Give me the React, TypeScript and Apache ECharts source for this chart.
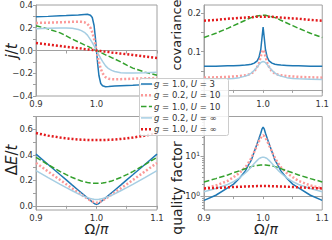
import React, { useEffect, useRef } from 'react';
import * as echarts from 'echarts';

// Ω/π sample points
const omega = [0.9, 0.92, 0.94, 0.95, 0.96, 0.97, 0.975, 0.98, 0.985, 0.99, 0.993, 0.996, 0.998, 1.0, 1.002, 1.004, 1.007, 1.01, 1.015, 1.02, 1.025, 1.03, 1.04, 1.05, 1.06, 1.08, 1.1];

const seriesNames = ['g = 1.0, U = 3', 'g = 0.2, U = 10', 'g = 1.0, U = 10', 'g = 0.2, U = ∞', 'g = 1.0, U = ∞'];

// j/t
const current_g1_U3 = [0.296, 0.3, 0.305, 0.307, 0.31, 0.313, 0.315, 0.317, 0.318, 0.31, 0.29, 0.22, 0.12, 0, -0.12, -0.22, -0.29, -0.31, -0.318, -0.317, -0.315, -0.313, -0.31, -0.307, -0.305, -0.3, -0.296];
const current_g02_U10 = [0.242, 0.245, 0.248, 0.25, 0.252, 0.253, 0.252, 0.248, 0.235, 0.2, 0.16, 0.1, 0.05, 0, -0.05, -0.1, -0.16, -0.2, -0.235, -0.248, -0.252, -0.253, -0.252, -0.25, -0.248, -0.245, -0.242];
const current_g1_U10 = [0.218, 0.19, 0.155, 0.128, 0.1, 0.075, 0.063, 0.05, 0.038, 0.025, 0.018, 0.01, 0.005, 0, -0.005, -0.01, -0.018, -0.025, -0.038, -0.05, -0.063, -0.075, -0.1, -0.128, -0.155, -0.19, -0.218];
const current_g02_Uinf = [0.192, 0.195, 0.197, 0.197, 0.195, 0.185, 0.175, 0.16, 0.135, 0.095, 0.07, 0.04, 0.02, 0, -0.02, -0.04, -0.07, -0.095, -0.135, -0.16, -0.175, -0.185, -0.195, -0.197, -0.197, -0.195, -0.192];
const current_g1_Uinf = [0.065, 0.053, 0.04, 0.033, 0.027, 0.02, 0.017, 0.013, 0.01, 0.007, 0.005, 0.003, 0.0015, 0, -0.0015, -0.003, -0.005, -0.007, -0.01, -0.013, -0.017, -0.02, -0.027, -0.033, -0.04, -0.053, -0.065];

// covariance
const cov_g1_U3 = [0.062, 0.062, 0.063, 0.063, 0.064, 0.065, 0.066, 0.067, 0.07, 0.076, 0.085, 0.105, 0.135, 0.164, 0.135, 0.105, 0.085, 0.076, 0.07, 0.067, 0.066, 0.065, 0.064, 0.063, 0.063, 0.062, 0.062];
const cov_g02_U10 = [0.032, 0.033, 0.034, 0.035, 0.036, 0.038, 0.04, 0.043, 0.048, 0.06, 0.07, 0.087, 0.099, 0.105, 0.099, 0.087, 0.07, 0.06, 0.048, 0.043, 0.04, 0.038, 0.036, 0.035, 0.034, 0.033, 0.032];
const cov_g1_U10 = [0.137, 0.148, 0.161, 0.168, 0.175, 0.182, 0.186, 0.189, 0.191, 0.193, 0.194, 0.195, 0.195, 0.195, 0.195, 0.195, 0.194, 0.193, 0.191, 0.189, 0.186, 0.182, 0.175, 0.168, 0.161, 0.148, 0.137];
const cov_g02_Uinf = [0.027, 0.028, 0.029, 0.03, 0.032, 0.036, 0.039, 0.044, 0.051, 0.06, 0.066, 0.071, 0.073, 0.074, 0.073, 0.071, 0.066, 0.06, 0.051, 0.044, 0.039, 0.036, 0.032, 0.03, 0.029, 0.028, 0.027];
const cov_g1_Uinf = [0.181, 0.183, 0.186, 0.187, 0.188, 0.189, 0.19, 0.19, 0.191, 0.191, 0.191, 0.191, 0.191, 0.191, 0.191, 0.191, 0.191, 0.191, 0.191, 0.19, 0.19, 0.189, 0.188, 0.187, 0.186, 0.183, 0.181];

// ΔE/t
const gap_g1_U3 = [0.405, 0.324, 0.243, 0.203, 0.162, 0.122, 0.102, 0.082, 0.062, 0.042, 0.03, 0.019, 0.014, 0.011, 0.014, 0.019, 0.03, 0.042, 0.062, 0.082, 0.102, 0.122, 0.162, 0.203, 0.243, 0.324, 0.405];
const gap_g02_U10 = [0.336, 0.269, 0.202, 0.169, 0.136, 0.104, 0.087, 0.071, 0.056, 0.041, 0.034, 0.027, 0.025, 0.024, 0.025, 0.027, 0.034, 0.041, 0.056, 0.071, 0.087, 0.104, 0.136, 0.169, 0.202, 0.269, 0.336];
const gap_g1_U10 = [0.38, 0.322, 0.268, 0.244, 0.222, 0.203, 0.195, 0.188, 0.183, 0.179, 0.177, 0.176, 0.176, 0.176, 0.176, 0.176, 0.177, 0.179, 0.183, 0.188, 0.195, 0.203, 0.222, 0.244, 0.268, 0.322, 0.38];
const gap_g02_Uinf = [0.275, 0.221, 0.168, 0.142, 0.118, 0.093, 0.082, 0.072, 0.064, 0.057, 0.054, 0.051, 0.05, 0.05, 0.05, 0.051, 0.054, 0.057, 0.064, 0.072, 0.082, 0.093, 0.118, 0.142, 0.168, 0.221, 0.275];
const gap_g1_Uinf = [0.57, 0.55, 0.535, 0.529, 0.524, 0.52, 0.518, 0.517, 0.516, 0.515, 0.515, 0.515, 0.515, 0.515, 0.515, 0.515, 0.515, 0.515, 0.516, 0.517, 0.518, 0.52, 0.524, 0.529, 0.535, 0.55, 0.57];

// quality factor
const q_g1_U3 = [0.78, 1.05, 1.6, 2.0, 2.8, 4.3, 6, 8, 13, 21, 28, 38, 48, 54, 48, 38, 28, 21, 13, 8, 6, 4.3, 2.8, 2.0, 1.6, 1.05, 0.78];
const q_g02_U10 = [1.55, 1.85, 2.4, 3.0, 3.8, 5.3, 6.8, 9, 13, 19, 24, 29, 32, 33.5, 32, 29, 24, 19, 13, 9, 6.8, 5.3, 3.8, 3.0, 2.4, 1.85, 1.55];
const q_g1_U10 = [2.27, 2.75, 3.4, 3.85, 4.3, 4.9, 5.2, 5.5, 5.75, 5.9, 5.95, 6.0, 6.0, 6.0, 6.0, 6.0, 5.95, 5.9, 5.75, 5.5, 5.2, 4.9, 4.3, 3.85, 3.4, 2.75, 2.27];
const q_g02_Uinf = [1.28, 1.55, 1.95, 2.3, 2.85, 3.8, 4.5, 5.4, 6.6, 7.9, 8.7, 9.2, 9.4, 9.5, 9.4, 9.2, 8.7, 7.9, 6.6, 5.4, 4.5, 3.8, 2.85, 2.3, 1.95, 1.55, 1.28];
const q_g1_Uinf = [1.56, 1.6, 1.66, 1.69, 1.72, 1.74, 1.75, 1.76, 1.77, 1.78, 1.78, 1.78, 1.78, 1.78, 1.78, 1.78, 1.78, 1.78, 1.77, 1.76, 1.75, 1.74, 1.72, 1.69, 1.66, 1.6, 1.56];

const xTicks = [0.9, 0.95, 1.0, 1.05, 1.1];
const jTicks = [-0.4, -0.3, -0.2, -0.1, 0, 0.1, 0.2, 0.3, 0.4];
const jLabels = [-0.4, -0.2, 0, 0.2, 0.4];
const covTicks = [0, 0.05, 0.1, 0.15, 0.2];
const covLabels = [0.1, 0.2];
const gapTicks = [0, 0.1, 0.2, 0.3, 0.4, 0.5, 0.6, 0.7];
const gapLabels = [0, 0.2, 0.4, 0.6];
const qMin = 0.447;
const qMax = 100;
const qMajor = [1, 10, 100];
const qMinor = [0.5, 0.6, 0.7, 0.8, 0.9, 2, 3, 4, 5, 6, 7, 8, 9, 20, 30, 40, 50, 60, 70, 80, 90];

const FONT = 'DejaVu Sans';
const AX = '#a0a0a0';
const TXT = '#333';

const styles = [
  { color: '#1f78b4', width: 1.5, dash: null as any },
  { color: '#fb9a99', width: 2.5, dash: [2, 2] },
  { color: '#33a02c', width: 1.5, dash: [5.5, 2.4] },
  { color: '#a6cee3', width: 1.5, dash: null as any },
  { color: '#e31a1c', width: 2.5, dash: [2, 2] },
];

const panels = [
  [current_g1_U3, current_g02_U10, current_g1_U10, current_g02_Uinf, current_g1_Uinf],
  [cov_g1_U3, cov_g02_U10, cov_g1_U10, cov_g02_Uinf, cov_g1_Uinf],
  [gap_g1_U3, gap_g02_U10, gap_g1_U10, gap_g02_Uinf, gap_g1_Uinf],
  [q_g1_U3, q_g02_U10, q_g1_U10, q_g02_Uinf, q_g1_Uinf],
];

const fmtNum = (v: number) => (v < -1e-9 ? '−' : '') + Math.abs(v).toFixed(1);

function xAxis(grid: number, labels: number[]) {
  return {
    type: 'value', gridIndex: grid, min: 0.9, max: 1.1,
    splitLine: { show: false },
    axisLine: { lineStyle: { color: AX, width: 1 } },
    axisTick: { customValues: xTicks, length: 3, lineStyle: { color: AX } },
    axisLabel: { customValues: labels, formatter: fmtNum, fontSize: 8.5, color: TXT, fontFamily: FONT, margin: 3, showMinLabel: true, showMaxLabel: true },
  };
}

function yAxis(grid: number, min: number, max: number, ticks: number[], labels: number[]) {
  return {
    type: 'value', gridIndex: grid, min, max,
    splitLine: { show: false },
    axisLine: { show: true, lineStyle: { color: AX, width: 1 } },
    axisTick: { customValues: ticks, length: 3, lineStyle: { color: AX } },
    axisLabel: { customValues: labels, formatter: fmtNum, fontSize: 8.5, color: TXT, fontFamily: FONT, margin: 3, showMinLabel: true, showMaxLabel: true },
  };
}

export default function App() {
  const ref = useRef<HTMLDivElement>(null);
  useEffect(() => {
    if (!ref.current) return;
    const chart = echarts.init(ref.current, null, { renderer: 'svg' });
    const grids = [
      { left: 36, top: 5, width: 121, height: 91 },
      { left: 204, top: 5, width: 124, height: 91 },
      { left: 36, top: 116.5, width: 121, height: 93.5 },
      { left: 204, top: 116.5, width: 124, height: 93.5 },
    ].map((g) => ({ ...g, show: true, borderColor: AX, borderWidth: 1, backgroundColor: 'transparent' }));

    const series: any[] = [];
    panels.forEach((arrs, p) => {
      arrs.forEach((arr, s) => {
        series.push({
          type: 'line',
          name: seriesNames[s],
          xAxisIndex: p,
          yAxisIndex: p,
          data: omega.map((x, k) => [x, arr[k]]),
          symbol: 'none',
          showSymbol: false,
          clip: true,
          lineStyle: { color: styles[s].color, width: styles[s].width, type: styles[s].dash || 'solid' },
          emphasis: { disabled: true },
        });
      });
    });

    const titleText = (text: string, x: number, y: number, size: number, rotate: boolean) => ({
      type: 'text', x, y, rotation: rotate ? Math.PI / 2 : 0, z: 50,
      style: {
        text, fill: '#222', fontSize: size, fontFamily: FONT, align: 'center', verticalAlign: 'middle',
        rich: { i: { fontStyle: 'italic', fontSize: size, fontFamily: FONT, fill: '#222' } },
      },
    });

    // legend (drawn as graphics, placed like the reference's legend box)
    const legX = 139, legY = 78, legW = 89, legH = 57, rowY0 = 84, rowStep = 11.3;
    const legendEls: any[] = [
      {
        type: 'rect', z: 100,
        shape: { x: legX + 0.5, y: legY + 0.5, width: legW, height: legH, r: 2 },
        style: { fill: 'rgba(255,255,255,0.85)', stroke: '#cccccc', lineWidth: 1 },
      },
    ];
    seriesNames.forEach((name, s) => {
      const y = rowY0 + s * rowStep;
      legendEls.push({
        type: 'line', z: 101,
        shape: { x1: 141, y1: y, x2: 152, y2: y },
        style: { stroke: styles[s].color, lineWidth: styles[s].width, lineDash: styles[s].dash || null },
      });
      legendEls.push({
        type: 'text', z: 101, x: 154, y,
        style: {
          text: name.replace(/^g/, '{i|g}').replace('U', '{i|U}'),
          fill: TXT, fontSize: 8.5, fontFamily: FONT, verticalAlign: 'middle', align: 'left',
          rich: { i: { fontStyle: 'italic', fontSize: 8.5, fontFamily: FONT, fill: TXT } },
        },
      });
    });

    const logLo = Math.log10(qMin);
    const logHi = Math.log10(qMax);

    chart.setOption({
      animation: false,
      backgroundColor: '#fff',
      grid: grids,
      xAxis: [xAxis(0, [0.9, 1.0]), xAxis(1, [1.0, 1.1]), xAxis(2, [0.9, 1.0, 1.1]), xAxis(3, [0.9, 1.0, 1.1])],
      yAxis: [
        yAxis(0, -0.4, 0.4, jTicks, jLabels),
        yAxis(1, -0.016, 0.222, covTicks, covLabels),
        yAxis(2, -0.033, 0.7, gapTicks, gapLabels),
        {
          type: 'log', gridIndex: 3, min: qMin, max: qMax, logBase: 10, position: 'left',
          splitLine: { show: false },
          axisLine: { show: true, lineStyle: { color: AX, width: 1 } },
          axisTick: { show: false },
          axisLabel: {
            show: true, showMinLabel: false, showMaxLabel: false,
            fontSize: 8.5, color: TXT, fontFamily: FONT, margin: 4,
            formatter: (v: number) => `10{sup|${Math.round(Math.log10(v))}}`,
            rich: { sup: { fontSize: 6, verticalAlign: 'top', color: TXT, fontFamily: FONT, padding: [0, 0, 5, 0] } },
          },
        },
        {
          // major and minor tick marks of the log axis, placed in decades
          type: 'value', gridIndex: 3, min: logLo, max: logHi, position: 'left', offset: 0,
          splitLine: { show: false },
          axisLine: { show: false },
          axisTick: { customValues: qMajor.map(Math.log10), length: 3.5, lineStyle: { color: AX } },
          axisLabel: { show: false },
        },
        {
          type: 'value', gridIndex: 3, min: logLo, max: logHi, position: 'left', offset: 0,
          splitLine: { show: false },
          axisLine: { show: false },
          axisTick: { customValues: qMinor.map(Math.log10), length: 2, lineStyle: { color: AX } },
          axisLabel: { show: false },
        },
      ],
      graphic: [
        titleText('{i|j}/{i|t}', 12, 51, 15, true),
        titleText('covariance', 176, 35, 13, true),
        titleText('Δ{i|E}/{i|t}', 12, 160, 15, true),
        titleText('quality factor', 177, 188, 14, true),
        titleText('Ω/{i|π}', 96.5, 229, 14, false),
        titleText('Ω/{i|π}', 266, 229, 14, false),
        ...legendEls,
      ],
      series,
    });
    return () => chart.dispose();
  }, []);
  return <div ref={ref} style={{ position: 'fixed', left: 0, top: 0, width: 332, height: 240, background: '#fff' }} />;
}
